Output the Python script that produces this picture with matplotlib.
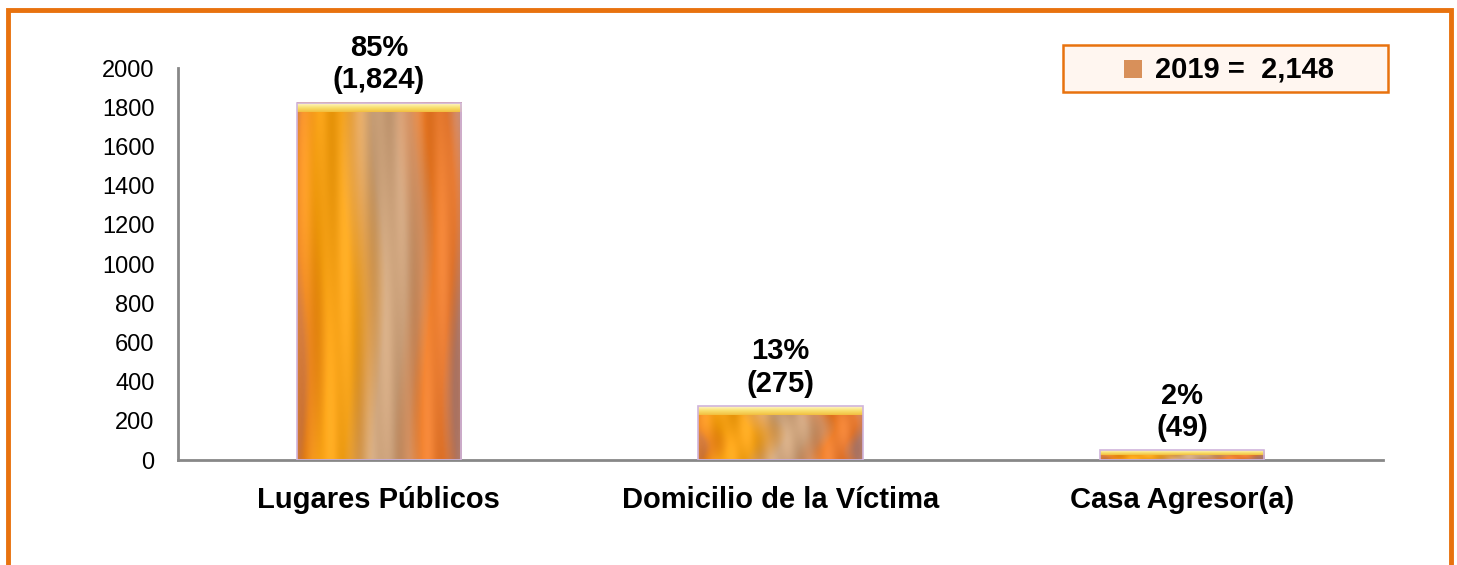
import matplotlib.pyplot as plt
import numpy as np
from matplotlib.colors import LinearSegmentedColormap
from matplotlib.patches import Rectangle

plt.rcParams['font.family'] = ['Liberation Sans', 'DejaVu Sans']

categories = ['Lugares Públicos', 'Domicilio de la Víctima', 'Casa Agresor(a)']
counts = [1824, 275, 49]
percents = ['85%', '13%', '2%']
year = 2019
total = 2148
yticks = [0, 200, 400, 600, 800, 1000, 1200, 1400, 1600, 1800, 2000]

orange = '#E8720E'

fig = plt.figure(figsize=(14.57, 5.65), dpi=100)
ax = fig.add_axes([0.1222, 0.1858, 0.827, 0.6938])

# wood-like texture across the bar width
wood = LinearSegmentedColormap.from_list('wood', [
    (0.00, '#D98040'), (0.04, '#EE8A22'), (0.15, '#F6A014'), (0.30, '#F4A21A'),
    (0.40, '#E0A050'), (0.50, '#CDA47C'), (0.62, '#C99E78'), (0.72, '#D49060'),
    (0.80, '#EC7E2C'), (0.92, '#E2762E'), (1.00, '#B8806E')])
cols = np.linspace(0, 1, 200)
rows = np.linspace(0, 1, 60)[:, None]
tex = wood(np.clip(cols + 0.04 * np.sin(rows * 6 + cols * 3), 0, 1))[..., :3]
streak = 0.035 * np.sin(cols * 21 + rows * 4) + 0.02 * np.sin(cols * 53 - rows * 3)
tex = np.clip(tex + streak[..., None], 0, 1)

bevel = LinearSegmentedColormap.from_list('bevel', ['#FFF6C8', '#F8E070', '#F2C040'])
px = 2000 / 392.0
width = 0.41
for i, h in enumerate(counts):
    x0, x1 = i - width / 2, i + width / 2
    ax.imshow(tex, extent=(x0, x1, 0, h), aspect='auto', origin='upper', zorder=2)
    bh = min(9 * px, h * 0.45)
    bev = bevel(np.linspace(0, 1, 20))[:, None, :3] * np.ones((1, 50, 1))
    ax.imshow(bev, extent=(x0, x1, h - bh, h), aspect='auto', origin='upper', zorder=3)
    ax.add_patch(Rectangle((x0, 0), width, h, fill=False, edgecolor='#D0B4DC',
                           linewidth=1.2, zorder=4))
    ax.annotate(f'{percents[i]}\n({h:,})', xy=(i, h), xytext=(0, 6),
                textcoords='offset points', ha='center', va='bottom',
                fontsize=21, fontweight='bold', linespacing=1.2)

ax.set_xlim(-0.5, 2.5)
ax.set_ylim(0, 2000)
ax.set_yticks(yticks)
ax.set_xticks(range(len(categories)))
ax.set_xticklabels(categories, fontsize=21, fontweight='bold')
ax.tick_params(axis='x', length=0, pad=19)
ax.tick_params(axis='y', length=0, pad=17, labelsize=17)
for s in ['top', 'right']:
    ax.spines[s].set_visible(False)
for s in ['left', 'bottom']:
    ax.spines[s].set_color('#888888')
    ax.spines[s].set_linewidth(2)

# legend box
W, H = 1457.0, 565.0
fig.patches.append(Rectangle((1063 / W, 1 - 92 / H), 325 / W, 47 / H,
                             transform=fig.transFigure, facecolor='#FFF6F0',
                             edgecolor=orange, linewidth=1.8))
fig.patches.append(Rectangle((1124 / W, 1 - 78 / H), 18 / W, 18 / H,
                             transform=fig.transFigure, facecolor='#D8905A',
                             edgecolor='none'))
fig.text(1155 / W, 1 - 69 / H, f'{year} =  {total:,}', fontsize=21,
         fontweight='bold', va='center', ha='left')

# outer orange frame
fig.patches.append(Rectangle((7.5 / W, -0.05), 1443 / W, 1.05 - 10 / H,
                             transform=fig.transFigure, fill=False,
                             edgecolor=orange, linewidth=3.5))

fig.savefig('out.png', dpi=100)
